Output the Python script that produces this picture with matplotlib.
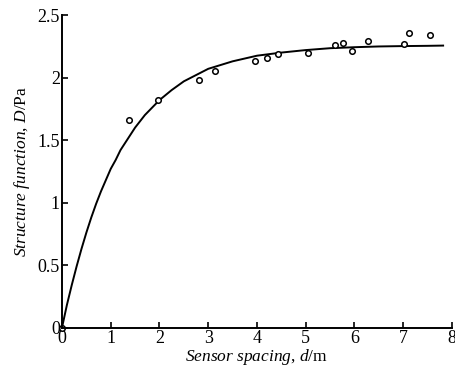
import matplotlib
matplotlib.use("Agg")
import matplotlib.pyplot as plt

plt.rcParams['font.family'] = ['Liberation Serif', 'DejaVu Serif']
plt.rcParams['mathtext.fontset'] = 'custom'
plt.rcParams['mathtext.rm'] = 'Liberation Serif'
plt.rcParams['mathtext.it'] = 'Liberation Serif:italic'

# measured points
spacing = [0.0, 1.38, 1.97, 2.81, 3.13, 3.96, 4.20, 4.44, 5.04, 5.60, 5.77, 5.94, 6.27, 7.01, 7.13, 7.55]
structure = [0.0, 1.66, 1.82, 1.98, 2.05, 2.13, 2.16, 2.19, 2.20, 2.26, 2.28, 2.21, 2.29, 2.27, 2.36, 2.34]

# fitted curve
curve_d = [0.0, 0.1, 0.2, 0.3, 0.4, 0.5, 0.6, 0.7, 0.8, 0.9, 1.0, 1.1, 1.2, 1.3, 1.4,
           1.5, 1.6, 1.7, 1.8, 1.9, 2.0, 2.25, 2.5, 2.75,
           3.0, 3.5, 4.0, 4.5, 5.0, 5.5, 6.0, 6.5, 7.0, 7.5, 7.82]
curve_D = [0.0, 0.18, 0.34, 0.49, 0.63, 0.76, 0.88, 0.99, 1.09, 1.18, 1.27, 1.34, 1.42, 1.48, 1.54,
           1.60, 1.65, 1.70, 1.74, 1.78, 1.82, 1.90, 1.97, 2.02,
           2.07, 2.13, 2.175, 2.20, 2.22, 2.235, 2.243, 2.249, 2.252, 2.254, 2.256]

xticks = [0, 1, 2, 3, 4, 5, 6, 7, 8]
yticks = [0, 0.5, 1, 1.5, 2, 2.5]
ytick_labels = ['0', '0.5', '1', '1.5', '2', '2.5']

fig = plt.figure(figsize=(4.56, 3.68), dpi=100)
ax = fig.add_axes([0.136, 0.11, 0.855, 0.849])

ax.plot(curve_d, curve_D, color='black', lw=1.4, clip_on=False)
ax.plot(spacing, structure, 'o', mfc='white', mec='black', ms=4, mew=1.1, clip_on=False)

ax.set_xlim(0, 8)
ax.set_ylim(0, 2.5)
ax.set_xticks(xticks)
ax.set_yticks(yticks)
ax.set_yticklabels(ytick_labels)
ax.tick_params(direction='in', length=4, width=1.2, labelsize=13, pad=1.5)

for side in ['top', 'right']:
    ax.spines[side].set_visible(False)
for side in ['left', 'bottom']:
    ax.spines[side].set_linewidth(1.4)

ax.set_xlabel(r'$\mathit{Sensor\ spacing}$, $\mathit{d}$/m', fontsize=12.5, labelpad=0)
ax.set_ylabel(r'$\mathit{Structure\ function}$, $\mathit{D}$/Pa', fontsize=12.5, labelpad=4)

fig.savefig('out.png', dpi=100)
